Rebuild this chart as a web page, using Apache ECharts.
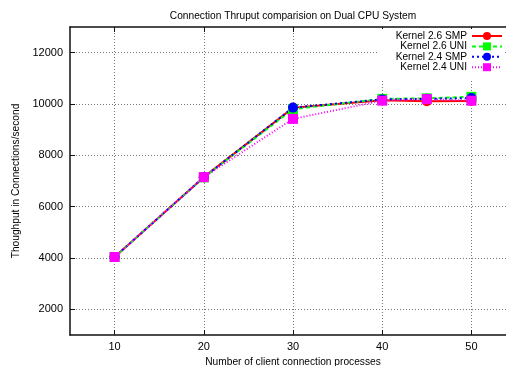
<!DOCTYPE html>
<html>
<head>
<meta charset="utf-8">
<script src="https://cdn.jsdelivr.net/npm/echarts@6/dist/echarts.min.js"></script>
<style>html,body{margin:0;padding:0;background:#fff}#c{width:506px;height:366px}</style>
</head>
<body>
<div id="c"></div>
<script>
var xValues = [10, 20, 30, 40, 45, 50];
var k26smp = [4040, 7150, 9850, 10150, 10110, 10120];
var k26uni = [4040, 7140, 9800, 10200, 10220, 10280];
var k24smp = [4040, 7150, 9860, 10180, 10200, 10230];
var k24uni = [4040, 7150, 9420, 10130, 10190, 10130];
var xTicks = [10, 20, 30, 40, 50];
var yTicks = [2000, 4000, 6000, 8000, 10000, 12000];
var seriesNames = ['Kernel 2.6 SMP', 'Kernel 2.6 UNI', 'Kernel 2.4 SMP', 'Kernel 2.4 UNI'];

function pairs(vals) { return xValues.map(function (x, i) { return [x, vals[i]]; }); }

var font = 'Liberation Sans, Arial, sans-serif';
var txt = 10.2;

var chart = echarts.init(document.getElementById('c'));
var mk = function (name, vals, color, type, symbol) {
  return {
    name: name, type: 'line', data: pairs(vals), symbol: symbol, symbolSize: 10,
    lineStyle: { color: color, width: 2, type: type }, itemStyle: { color: color },
    animation: false
  };
};
chart.setOption({
  animation: false,
  textStyle: { fontFamily: font },
  title: {
    text: 'Connection Thruput comparision on Dual CPU System',
    left: 288, textAlign: 'center', top: 6,
    textStyle: { fontSize: txt, fontWeight: 'normal', color: '#000', fontFamily: font }
  },
  grid: { left: 70, right: -10, top: 27, bottom: 31, show: false, containLabel: false, outerBoundsMode: 'none' },
  legend: {
    orient: 'vertical', right: 1, top: 29, align: 'right',
    itemWidth: 30, itemHeight: 10, itemGap: 0.4,
    padding: [2, 2, 7, 18],
    backgroundColor: '#fff',
    textStyle: { fontSize: txt, color: '#000', fontFamily: font, width: 70, align: 'right', lineHeight: 10 },
    data: seriesNames
  },
  xAxis: [{
    type: 'value', min: 5, max: 55, interval: 5,
    name: 'Number of client connection processes', nameLocation: 'middle', nameGap: 15,
    nameTextStyle: { fontSize: txt, color: '#000', fontFamily: font },
    axisLine: { show: true, lineStyle: { color: '#111', width: 1.5 } },
    axisTick: { show: true, inside: true, length: 5, customValues: xTicks, lineStyle: { color: '#111' } },
    axisLabel: { show: true, customValues: xTicks, fontSize: 11, color: '#000', margin: 6, fontFamily: font },
    splitLine: { show: true, customValues: xTicks, lineStyle: { color: '#777', width: 1, type: [1, 2] } }
  }, {
    type: 'value', min: 5, max: 55, interval: 5, position: 'top',
    axisLine: { show: true, lineStyle: { color: '#111', width: 1.5 } },
    axisTick: { show: true, inside: true, length: 5, customValues: xTicks, lineStyle: { color: '#111' } },
    axisLabel: { show: false },
    splitLine: { show: false }
  }],
  yAxis: {
    type: 'value', min: 1000, max: 13000, interval: 1000,
    name: 'Thoughput in Connections/second', nameLocation: 'middle', nameGap: 49,
    nameTextStyle: { fontSize: txt, color: '#000', fontFamily: font },
    axisLine: { show: true, lineStyle: { color: '#111', width: 1.5 } },
    axisTick: { show: true, inside: true, length: 5, customValues: yTicks, lineStyle: { color: '#111' } },
    axisLabel: { show: true, customValues: yTicks, fontSize: 11, color: '#000', margin: 7, fontFamily: font,
      formatter: function (v) { return String(v); } },
    splitLine: { show: true, customValues: yTicks, lineStyle: { color: '#777', width: 1, type: [1, 2] } }
  },
  series: [
    mk(seriesNames[0], k26smp, '#ff0000', 'solid', 'circle'),
    mk(seriesNames[1], k26uni, '#00ff00', [4, 3], 'rect'),
    mk(seriesNames[2], k24smp, '#0000ff', [2, 3], 'circle'),
    mk(seriesNames[3], k24uni, '#ff00ff', [1, 2], 'rect')
  ]
});
</script>
</body>
</html>
